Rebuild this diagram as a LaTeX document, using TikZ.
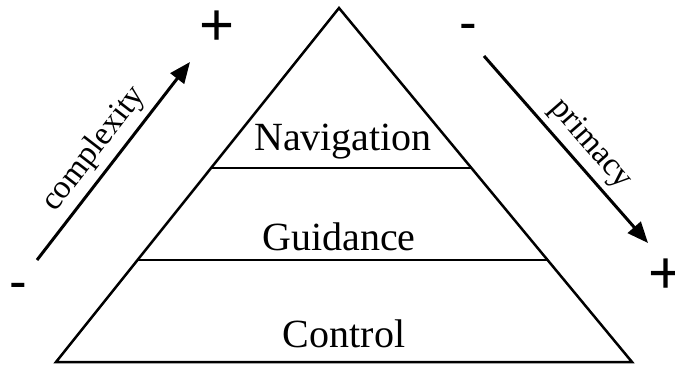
\documentclass[tikz,border=0pt]{standalone}
\usepackage{fontspec}
\setmainfont{Liberation Serif}
\newfontfamily\signfont{Liberation Sans}
\usetikzlibrary{calc,arrows.meta}
\tikzset{
  edge/.style={line width=2.5pt, line join=miter},
  divider/.style={line width=1.4pt},
  trend/.style={line width=3pt, -{Triangle[length=21pt,width=17pt]}},
  level/.style={font=\fontsize{40}{48}\selectfont, anchor=base, inner sep=0pt},
  axislabel/.style={font=\fontsize{33}{40}\selectfont, inner sep=0pt},
  plus/.style={font=\signfont\fontsize{60}{72}\selectfont, anchor=base, inner sep=0pt},
  minus/.style={font=\signfont\fontsize{53}{64}\selectfont, anchor=base, inner sep=0pt}
}
\begin{document}
\begin{tikzpicture}[x=1pt, y=-1pt]
\useasboundingbox (0,0) rectangle (675,365);

% pyramid outline
\coordinate (apex) at (339,8);
\coordinate (bl) at (56,362);
\coordinate (br) at (632,362);
\draw[edge] (bl) -- (apex) -- (br) -- cycle;

% level dividers
\coordinate (d1l) at ($(apex)!0.452!(bl)$);
\coordinate (d1r) at ($(apex)!0.452!(br)$);
\coordinate (d2l) at ($(apex)!0.712!(bl)$);
\coordinate (d2r) at ($(apex)!0.712!(br)$);
\draw[divider] (d1l) -- (d1r);
\draw[divider] (d2l) -- (d2r);

% level names
\node[level] (nav) at (343,150) {Navigation};
\node[level] (gui) at (339,250) {Guidance};
\node[level] (ctl) at (344,347) {Control};

% complexity axis
\coordinate (cxs) at (37,260);
\coordinate (cxe) at (190,62);
\draw[trend] (cxs) -- node[axislabel, pos=0.49, above=6pt, sloped] (cxl) {complexity} (cxe);
\node[plus] (cxp) at (217.5,45) {+};
\node[minus] (cxm) at (18.5,299) {-};

% primacy axis
\coordinate (prs) at (484,56);
\coordinate (pre) at (648,243);
\draw[trend] (prs) -- node[axislabel, pos=0.55, above=6pt, sloped] (prl) {primacy} (pre);
\node[minus] (prm) at (468.5,40) {-};
\node[plus] (prp) at (666.5,293) {+};
\end{tikzpicture}
\end{document}
